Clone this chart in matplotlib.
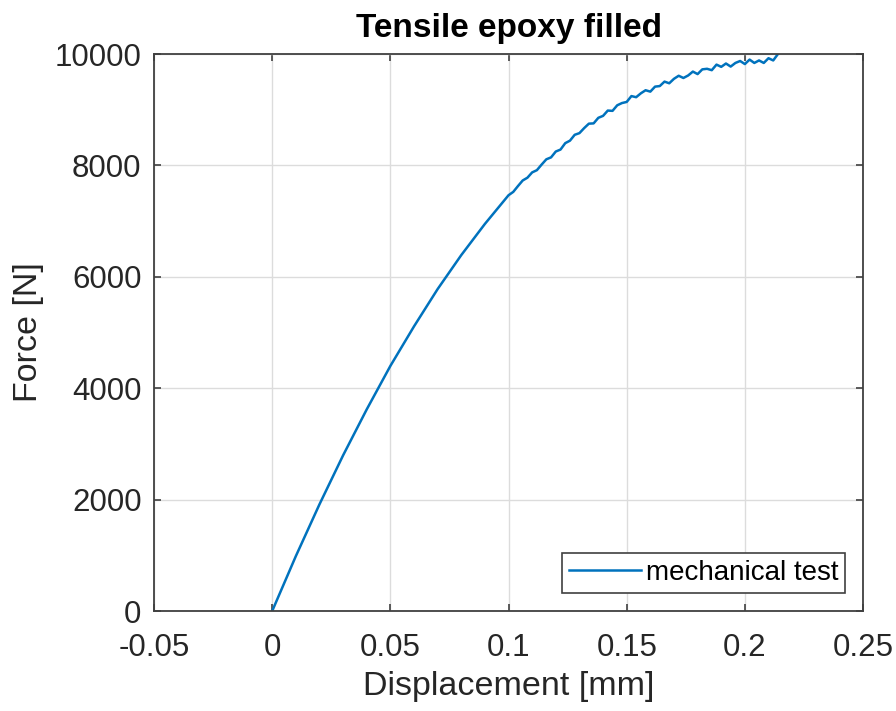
import matplotlib.pyplot as plt

# displacement [mm] and force [N]
disp = [0.00, 0.01, 0.02, 0.03, 0.04, 0.05, 0.06, 0.07, 0.08, 0.09,
        0.100, 0.102, 0.104, 0.106, 0.108, 0.110, 0.112, 0.114, 0.116, 0.118,
        0.120, 0.122, 0.124, 0.126, 0.128, 0.130, 0.132, 0.134, 0.136, 0.138,
        0.140, 0.142, 0.144, 0.146, 0.148, 0.150, 0.152, 0.154, 0.156, 0.158,
        0.160, 0.162, 0.164, 0.166, 0.168, 0.170, 0.172, 0.174, 0.176, 0.178,
        0.180, 0.182, 0.184, 0.186, 0.188, 0.190, 0.192, 0.194, 0.196, 0.198,
        0.200, 0.202, 0.204, 0.206, 0.208, 0.210, 0.212, 0.2139]
force = [0, 985, 1915, 2795, 3620, 4400, 5110, 5780, 6390, 6950,
         7465, 7525, 7630, 7730, 7780, 7875, 7915, 8015, 8110, 8145,
         8250, 8285, 8400, 8445, 8550, 8580, 8670, 8750, 8755, 8855,
         8890, 8985, 8980, 9080, 9120, 9140, 9245, 9225, 9295, 9350,
         9325, 9415, 9425, 9505, 9475, 9555, 9610, 9570, 9615, 9685,
         9640, 9725, 9735, 9710, 9810, 9770, 9830, 9775, 9840, 9875,
         9820, 9900, 9840, 9885, 9840, 9925, 9885, 9995]

xticks = [-0.05, 0, 0.05, 0.1, 0.15, 0.2, 0.25]
xticklabels = ['-0.05', '0', '0.05', '0.1', '0.15', '0.2', '0.25']
yticks = [0, 2000, 4000, 6000, 8000, 10000]
yticklabels = ['0', '2000', '4000', '6000', '8000', '10000']

plt.rcParams['font.family'] = ['Liberation Sans', 'DejaVu Sans']

fig = plt.figure(figsize=(8.96, 7.11), dpi=100)
ax = fig.add_axes([0.1719, 0.1406, 0.7913, 0.7834])

ax.plot(disp, force, color='#0072BD', lw=1.8, label='mechanical test')

ax.set_xlim(-0.05, 0.25)
ax.set_ylim(0, 10000)
ax.set_xticks(xticks)
ax.set_xticklabels(xticklabels)
ax.set_yticks(yticks)
ax.set_yticklabels(yticklabels)
ax.grid(True, color='#dcdcdc', lw=1.0)
ax.set_axisbelow(True)

ax.tick_params(direction='in', length=5, width=1.2, color='#404040',
               labelsize=22.5, labelcolor='#262626', top=True, right=True)
ax.tick_params(axis='x', pad=15.5)
ax.tick_params(axis='y', pad=9)
for s in ax.spines.values():
    s.set_color('#404040')
    s.set_linewidth(1.3)

ax.set_xlabel('Displacement [mm]', fontsize=24.5, color='#262626', labelpad=6)
ax.set_ylabel('Force [N]', fontsize=24.5, color='#262626', labelpad=8)
ax.set_title('Tensile epoxy filled', fontsize=24, fontweight='bold', pad=12)

leg = ax.legend(loc='lower right', fontsize=20, fancybox=False, framealpha=1,
                edgecolor='#404040', handlelength=2.6, handletextpad=0.15,
                borderpad=0.25, borderaxespad=0.65)
leg.get_frame().set_linewidth(1.2)

fig.savefig('out.png', dpi=100)
